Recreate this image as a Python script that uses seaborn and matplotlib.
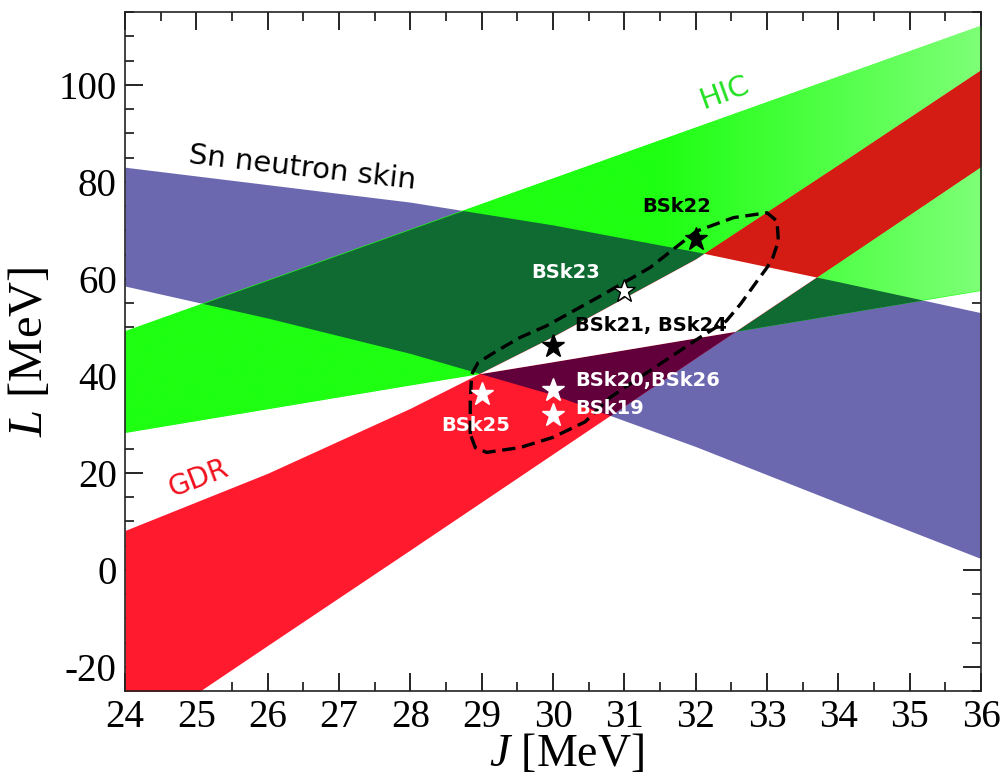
import numpy as np
import matplotlib
matplotlib.use("Agg")
import matplotlib.pyplot as plt
from matplotlib.ticker import MultipleLocator
import seaborn as sns

# ---------------- data ----------------
J_knots = [24, 26, 28, 30, 32, 34, 36]
sn_upper = [83.0, 79.4, 75.8, 71.1, 65.6, 59.4, 53.0]
sn_lower = [58.5, 51.9, 44.6, 36.1, 25.4, 13.8, 2.3]
hic_upper = [49.2, 59.7, 70.2, 80.7, 91.2, 101.7, 112.2]
hic_lower = [28.3, 33.2, 38.1, 42.9, 47.8, 52.7, 57.6]
gdr_upper = [8.1, 19.9, 33.3, 48.1, 64.1, 83.5, 103.1]
gdr_lower = [-35.4, -15.6, 4.1, 23.9, 43.7, 63.4, 83.2]

contour_J = [28.84, 28.84, 28.86, 28.95, 29.21, 29.54, 29.91, 30.66, 31.36, 32.01,
             32.53, 33.0, 33.14, 33.16, 33.08, 33.0, 32.86, 32.63, 32.43, 32.06,
             31.6, 31.2, 30.8, 30.45, 30.0, 29.54, 29.07, 28.91, 28.84]
contour_L = [28.0, 34.8, 40.3, 42.7, 45.1, 47.9, 50.3, 56.4, 62.3, 69.8,
             72.6, 73.6, 71.9, 67.8, 64.3, 62.3, 59.5, 54.8, 51.3, 47.9,
             43.4, 39.5, 35.5, 30.5, 27.3, 25.2, 24.2, 25.2, 28.0]

models = ["BSk22", "BSk23", "BSk21, BSk24", "BSk20,BSk26", "BSk19", "BSk25"]
model_J = [32.0, 31.0, 30.0, 30.0, 30.0, 29.0]
model_L = [68.1, 57.5, 46.2, 37.0, 31.9, 36.2]

# ---------------- styling ----------------
sns.set_theme(style="ticks")
plt.rcParams["font.family"] = ["DejaVu Sans"]
plt.rcParams["axes.unicode_minus"] = False
plt.rcParams["mathtext.fontset"] = "custom"
plt.rcParams["mathtext.it"] = "Liberation Serif:italic"
plt.rcParams["mathtext.rm"] = "Liberation Serif"

C_SN = "#6c68b0"
C_HIC = "#1eff12"
C_SN_HIC = "#106b33"
C_GDR = "#ff1a2e"
C_GDR_SN = "#62003c"
C_GDR_HIC = "#d41c14"

fig = plt.figure(figsize=(10.01, 7.78), dpi=100)
ax = fig.add_axes([125 / 1001, 1 - 691 / 778, 856 / 1001, 679 / 778])
ax.set_facecolor("white")

Jf = np.linspace(24, 36, 2401)


def edge(v):
    return np.interp(Jf, J_knots, v)


snl, snu = edge(sn_lower), edge(sn_upper)
hl, hu = edge(hic_lower), edge(hic_upper)
gl, gu = edge(gdr_lower), edge(gdr_upper)


def band(lo, hi, color, z):
    return ax.fill_between(Jf, lo, hi, where=hi > lo, interpolate=True,
                           color=color, lw=0, zorder=z)


band(snl, snu, C_SN, 1)
hic_poly = band(hl, hu, C_HIC, 2)

# lighter green toward the right edge of the HIC band
grad = np.zeros((2, 300, 4))
t = np.clip((np.linspace(24, 36, 300) - 31.5) / 4.5, 0, 1)
grad[..., 0] = (30 + 95 * t) / 255
grad[..., 1] = 1.0
grad[..., 2] = (18 + 100 * t) / 255
grad[..., 3] = 1.0
im = ax.imshow(grad, extent=[24, 36, -25, 115], aspect="auto", origin="lower",
               zorder=2.5, interpolation="bilinear")
im.set_clip_path(hic_poly.get_paths()[0], transform=ax.transData)

band(np.maximum(snl, hl), np.minimum(snu, hu), C_SN_HIC, 3)
band(gl, gu, C_GDR, 4)
band(np.maximum(gl, snl), np.minimum(gu, snu), C_GDR_SN, 5)
band(np.maximum(gl, hl), np.minimum(gu, hu), C_GDR_HIC, 6)
band(np.maximum.reduce([gl, hl, snl]), np.minimum.reduce([gu, hu, snu]), "white", 7)

# dashed contour
sns.lineplot(x=contour_J, y=contour_L, sort=False, estimator=None, ax=ax,
             color="black", lw=2.4, linestyle=(0, (4, 2)), zorder=8)

# model stars
faces = ["black", "white", "black", "white", "white", "white"]
edges = ["black", "black", "black", "white", "white", "white"]
for j, l, fc, ec in zip(model_J, model_L, faces, edges):
    ax.plot(j, l, marker="*", ms=17, mfc=fc, mec=ec, mew=1.0, ls="none", zorder=9)

lab_kw = dict(fontsize=14, fontweight="bold", zorder=10)
ax.text(31.74, 75.0, models[0], color="black", ha="center", va="center", **lab_kw)
ax.text(30.17, 61.3, models[1], color="white", ha="center", va="center", **lab_kw)
ax.text(30.31, 50.3, models[2], color="black", ha="left", va="center", **lab_kw)
ax.text(30.31, 38.95, models[3], color="white", ha="left", va="center", **lab_kw)
ax.text(30.31, 33.2, models[4], color="white", ha="left", va="center", **lab_kw)
ax.text(28.92, 29.7, models[5], color="white", ha="center", va="center", **lab_kw)

ax.text(26.49, 82.9, "Sn neutron skin", fontsize=21, color="black", rotation=-6.5,
        ha="center", va="center", rotation_mode="anchor", zorder=10)
ax.text(32.40, 98.4, "HIC", fontsize=21, color="#22e022", rotation=20,
        ha="center", va="center", rotation_mode="anchor", zorder=10)
ax.text(25.03, 18.9, "GDR", fontsize=20, color="#f0101e", rotation=21,
        ha="center", va="center", rotation_mode="anchor", zorder=10)

# axes
ax.set_xlim(24, 36)
ax.set_ylim(-25, 115)
ax.set_xticks(range(24, 37))
ax.set_yticks(range(-20, 101, 20))
ax.xaxis.set_minor_locator(MultipleLocator(0.5))
ax.yaxis.set_minor_locator(MultipleLocator(5))
ax.tick_params(which="both", direction="in", top=True, right=True,
               labelsize=28, labelfontfamily="Liberation Serif", colors="black")
ax.tick_params(which="major", length=13, width=1.2, pad=6)
ax.tick_params(which="minor", length=6.5, width=1.1)
for s in ax.spines.values():
    s.set_linewidth(1.2)
    s.set_color("#222222")
    s.set_zorder(12)

ax.set_xlabel(r"$J$ [MeV]", fontsize=33, family="Liberation Serif", color="black")
ax.set_ylabel(r"$L$ [MeV]", fontsize=35, family="Liberation Serif", color="black")
ax.xaxis.set_label_coords(0.516, -0.062)
ax.yaxis.set_label_coords(-0.085, 0.50)

fig.savefig("out.png", dpi=100)
